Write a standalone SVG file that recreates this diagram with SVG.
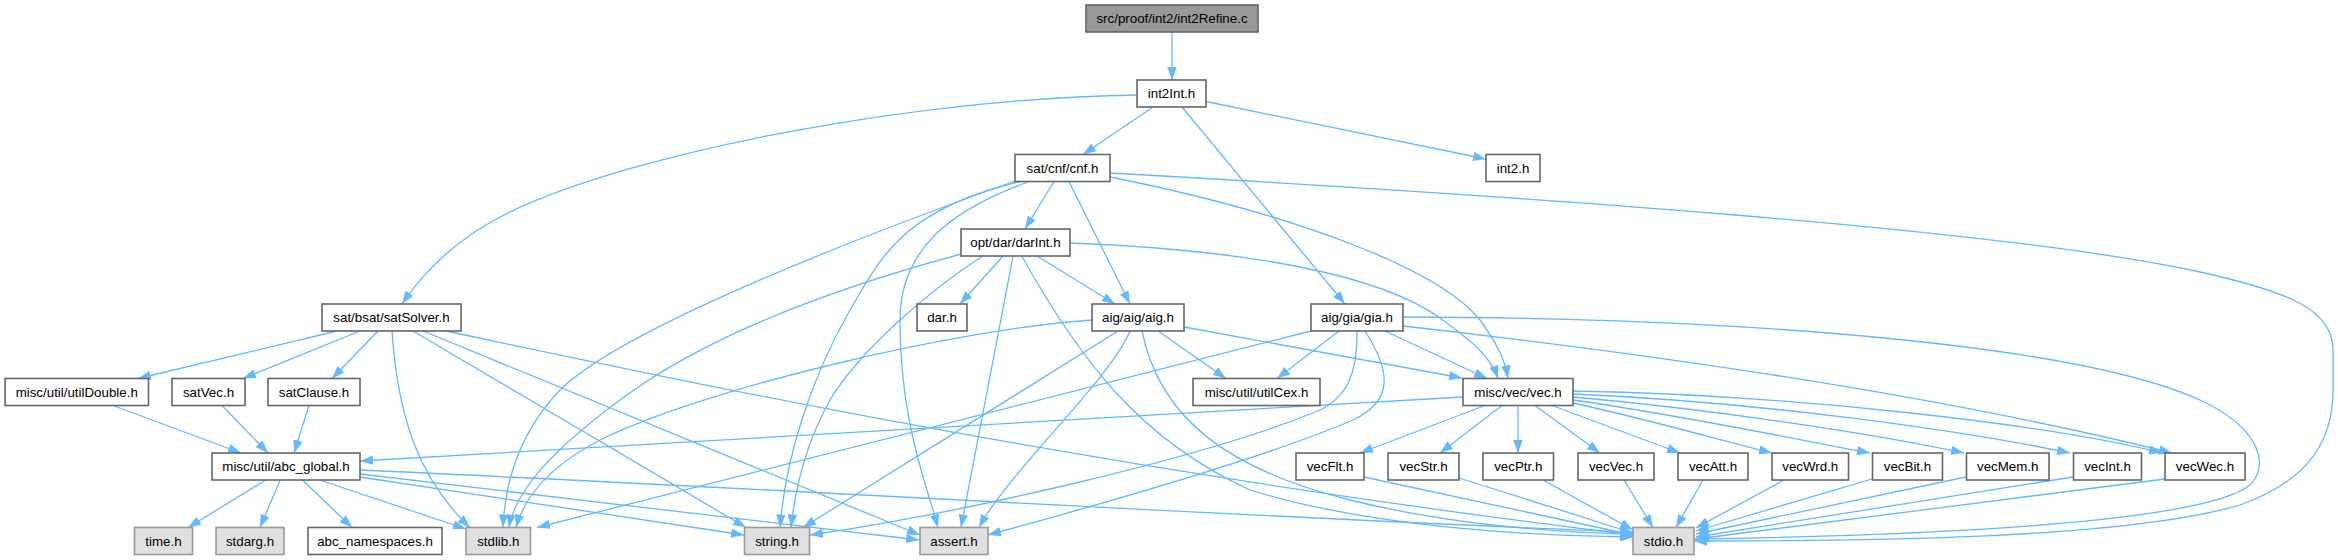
<svg xmlns="http://www.w3.org/2000/svg" width="2338" height="560" viewBox="0 0 2338 560">
<style>
.e{fill:none;stroke:#63b8ff;stroke-width:1.3;marker-end:url(#ah)}
rect{stroke-width:1.6}
.w{fill:#ffffff;stroke:#666666}
.g{fill:#e0e0e0;stroke:#999999}
.root{fill:#999999;stroke:#666666}
text{font-family:"Liberation Sans",Arial,Helvetica,sans-serif;font-size:13.33px;fill:#000;text-anchor:middle}
</style>
<defs>
<marker id="ah" viewBox="0 0 13 9.4" refX="13" refY="4.7" markerWidth="13" markerHeight="9.4" markerUnits="userSpaceOnUse" orient="auto">
<path d="M0,0 L13,4.7 L0,9.4 z" fill="#63b8ff"/>
</marker>
</defs>
<rect x="0" y="0" width="2338" height="560" fill="#ffffff" stroke="none"/>
<g id="edges">
<path class="e" d="M1172,32 L1172,80"/>
<path class="e" d="M1137,95 C920,98 640,150 510,212 C460,236 425,270 402,304"/>
<path class="e" d="M1153,107 L1083,154.5"/>
<path class="e" d="M1182,107 L1345,304"/>
<path class="e" d="M1206,101.5 L1486,159"/>
<path class="e" d="M1054,181.5 L1025,229"/>
<path class="e" d="M1069,181.5 L1130,304"/>
<path class="e" d="M1110,177 C1300,215 1440,270 1480,320 C1498,345 1505,360 1508,378.5"/>
<path class="e" d="M1110,173 C1500,195 2000,228 2200,272 C2290,292 2333,310 2333,350 L2333,390 C2333,440 2310,480 2240,505 C2120,540 1850,541 1694,541"/>
<path class="e" d="M1015,181 C850,240 620,330 560,390 C520,432 505,480 503,527.5"/>
<path class="e" d="M1020,181.5 C900,210 880,260 850,310 C810,380 785,460 780,527.5"/>
<path class="e" d="M1028,182 C950,210 900,250 900,320 C900,420 925,480 938,527.5"/>
<path class="e" d="M1003,256 L960,304"/>
<path class="e" d="M1037,256 L1115,304"/>
<path class="e" d="M1070,243 C1250,250 1380,275 1440,318 C1470,340 1490,355 1498,378.5"/>
<path class="e" d="M961,254 C820,292 700,340 620,400 C555,448 515,490 509,527.5"/>
<path class="e" d="M982,256.5 C930,290 860,350 830,400 C805,445 795,490 791,527.5"/>
<path class="e" d="M1013,256.5 L961,527.5"/>
<path class="e" d="M1022,256.5 C1080,360 1140,440 1250,490 C1380,530 1550,536 1633,537"/>
<path class="e" d="M1092,320 C950,330 700,390 600,440 C550,466 525,495 516,527.5"/>
<path class="e" d="M1118,331 L803,527.5"/>
<path class="e" d="M1130,331 C1110,380 1010,470 979,527.5"/>
<path class="e" d="M1142,331 C1160,420 1230,470 1350,500 C1450,525 1560,533 1633,534"/>
<path class="e" d="M1158,331 L1226,378.5"/>
<path class="e" d="M1184,327 L1462,378"/>
<path class="e" d="M1311,331 L537,527.5"/>
<path class="e" d="M1339,331 L1277,378.5"/>
<path class="e" d="M1385,331 L1487,378.5"/>
<path class="e" d="M1357,331 C1357,370 1350,395 1320,410 C1200,460 950,515 810,535"/>
<path class="e" d="M1365,331 C1390,370 1395,400 1353,420 C1260,460 1080,510 988,535"/>
<path class="e" d="M1403,317 C1750,318 2080,345 2200,400 C2260,428 2270,465 2250,485 C2200,525 1900,536 1694,539"/>
<path class="e" d="M1403,326 C1750,365 2000,410 2172,453"/>
<path class="e" d="M1463,397 L360,461"/>
<path class="e" d="M1485,405.5 L1360,453"/>
<path class="e" d="M1502,405.5 L1440,453"/>
<path class="e" d="M1518,405.5 L1518,453"/>
<path class="e" d="M1535,405.5 L1600,453"/>
<path class="e" d="M1552,405.5 L1680,453"/>
<path class="e" d="M1573,403 C1650,420 1720,440 1772,453"/>
<path class="e" d="M1573,400 C1680,415 1800,440 1870,453"/>
<path class="e" d="M1573,397 C1720,410 1880,435 1964,453"/>
<path class="e" d="M1573,394 C1760,402 1960,430 2070,453"/>
<path class="e" d="M1573,391 C1800,395 2050,425 2162,453"/>
<path class="e" d="M1364,477 L1633,535"/>
<path class="e" d="M1459,478 L1633,533"/>
<path class="e" d="M1543,480 L1633,530"/>
<path class="e" d="M1624,480 L1653,527.5"/>
<path class="e" d="M1703,480 L1676,527.5"/>
<path class="e" d="M1784,480 L1696,528"/>
<path class="e" d="M1872,479 L1696,531"/>
<path class="e" d="M1966,477 L1696,534"/>
<path class="e" d="M2073,477 L1696,537"/>
<path class="e" d="M2165,479 L1696,539"/>
<path class="e" d="M337,331 L138,378.5"/>
<path class="e" d="M360,331 L243,378.5"/>
<path class="e" d="M378,331 L332,378.5"/>
<path class="e" d="M392,331 C398,420 420,480 470,527.5"/>
<path class="e" d="M413,331 L746,527.5"/>
<path class="e" d="M423,331 L920,535"/>
<path class="e" d="M446,331 C700,385 1100,470 1633,535"/>
<path class="e" d="M113,405.5 L241,453"/>
<path class="e" d="M222,405.5 L268,453"/>
<path class="e" d="M309,405.5 L294,453"/>
<path class="e" d="M265,480.5 L188,527.5"/>
<path class="e" d="M280,480.5 L260,527.5"/>
<path class="e" d="M303,480.5 L352,527.5"/>
<path class="e" d="M321,480.5 L466,529"/>
<path class="e" d="M360,477 L744,535"/>
<path class="e" d="M360,474 L919,540"/>
<path class="e" d="M360,470 C800,490 1300,520 1633,532"/>
</g>
<g id="n0"><rect class="root" x="1086" y="5" width="172" height="27"/><text x="1172" y="23.3">src/proof/int2/int2Refine.c</text></g>
<g id="n1"><rect class="w" x="1137" y="80" width="69" height="27"/><text x="1171.5" y="98.3">int2Int.h</text></g>
<g id="n2"><rect class="w" x="1015" y="154.5" width="95" height="27"/><text x="1062.5" y="172.8">sat/cnf/cnf.h</text></g>
<g id="n3"><rect class="w" x="1486" y="154.5" width="54" height="27"/><text x="1513" y="172.8">int2.h</text></g>
<g id="n4"><rect class="w" x="961" y="229" width="109" height="27"/><text x="1015.5" y="247.3">opt/dar/darInt.h</text></g>
<g id="n5"><rect class="w" x="322" y="304" width="139" height="27"/><text x="391.5" y="322.3">sat/bsat/satSolver.h</text></g>
<g id="n6"><rect class="w" x="917" y="304" width="50" height="27"/><text x="942" y="322.3">dar.h</text></g>
<g id="n7"><rect class="w" x="1092" y="304" width="92" height="27"/><text x="1138" y="322.3">aig/aig/aig.h</text></g>
<g id="n8"><rect class="w" x="1311" y="304" width="92" height="27"/><text x="1357" y="322.3">aig/gia/gia.h</text></g>
<g id="n9"><rect class="w" x="5" y="378.5" width="143.5" height="27"/><text x="76.75" y="396.8">misc/util/utilDouble.h</text></g>
<g id="n10"><rect class="w" x="172" y="378.5" width="73" height="27"/><text x="208.5" y="396.8">satVec.h</text></g>
<g id="n11"><rect class="w" x="268" y="378.5" width="92" height="27"/><text x="314" y="396.8">satClause.h</text></g>
<g id="n12"><rect class="w" x="1193" y="378.5" width="127" height="27"/><text x="1256.5" y="396.8">misc/util/utilCex.h</text></g>
<g id="n13"><rect class="w" x="1463" y="378.5" width="110" height="27"/><text x="1518" y="396.8">misc/vec/vec.h</text></g>
<g id="n14"><rect class="w" x="212" y="453" width="148" height="27"/><text x="286" y="471.3">misc/util/abc_global.h</text></g>
<g id="n15"><rect class="w" x="1296" y="453" width="68" height="27"/><text x="1330" y="471.3">vecFlt.h</text></g>
<g id="n16"><rect class="w" x="1388" y="453" width="71" height="27"/><text x="1423.5" y="471.3">vecStr.h</text></g>
<g id="n17"><rect class="w" x="1483" y="453" width="70.5" height="27"/><text x="1518.25" y="471.3">vecPtr.h</text></g>
<g id="n18"><rect class="w" x="1578" y="453" width="76" height="27"/><text x="1616" y="471.3">vecVec.h</text></g>
<g id="n19"><rect class="w" x="1678" y="453" width="70" height="27"/><text x="1713" y="471.3">vecAtt.h</text></g>
<g id="n20"><rect class="w" x="1772" y="453" width="76.5" height="27"/><text x="1810.25" y="471.3">vecWrd.h</text></g>
<g id="n21"><rect class="w" x="1872.5" y="453" width="70" height="27"/><text x="1907.5" y="471.3">vecBit.h</text></g>
<g id="n22"><rect class="w" x="1966.5" y="453" width="82.5" height="27"/><text x="2007.75" y="471.3">vecMem.h</text></g>
<g id="n23"><rect class="w" x="2073.5" y="453" width="68" height="27"/><text x="2107.5" y="471.3">vecInt.h</text></g>
<g id="n24"><rect class="w" x="2165" y="453" width="80" height="27"/><text x="2205" y="471.3">vecWec.h</text></g>
<g id="n25"><rect class="g" x="134.5" y="527.5" width="58" height="27"/><text x="163.5" y="545.8">time.h</text></g>
<g id="n26"><rect class="g" x="216" y="527.5" width="68" height="27"/><text x="250" y="545.8">stdarg.h</text></g>
<g id="n27"><rect class="w" x="308" y="527.5" width="134" height="27"/><text x="375" y="545.8">abc_namespaces.h</text></g>
<g id="n28"><rect class="g" x="466" y="527.5" width="64.5" height="27"/><text x="498.25" y="545.8">stdlib.h</text></g>
<g id="n29"><rect class="g" x="744.5" y="527.5" width="65" height="27"/><text x="777" y="545.8">string.h</text></g>
<g id="n30"><rect class="g" x="920" y="527.5" width="68" height="27"/><text x="954" y="545.8">assert.h</text></g>
<g id="n31"><rect class="g" x="1633" y="527.5" width="61" height="27"/><text x="1663.5" y="545.8">stdio.h</text></g>
</svg>
